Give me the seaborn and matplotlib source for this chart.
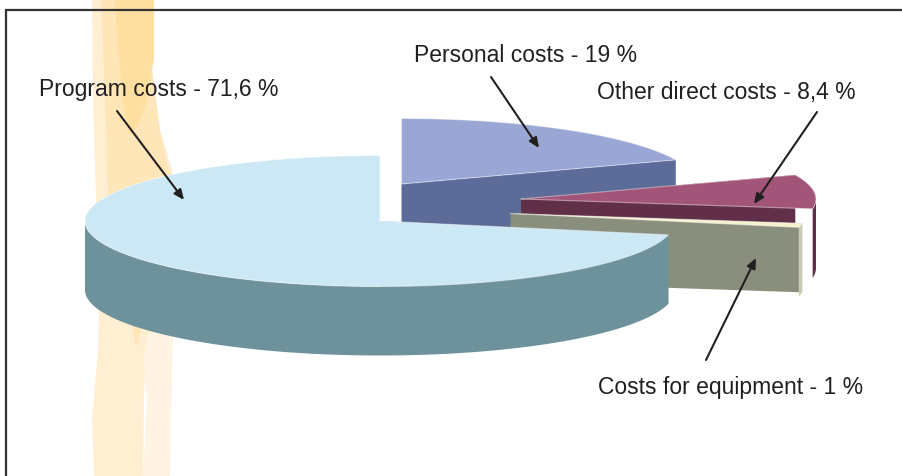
import numpy as np
import pandas as pd
import matplotlib
matplotlib.use("Agg")
import matplotlib.pyplot as plt
import seaborn as sns

# === DATA ===
labels = ["Program costs", "Costs for equipment", "Other direct costs", "Personal costs"]
shares = [71.6, 1.0, 8.4, 19.0]
share_text = ["71,6", "1", "8,4", "19"]

# === STYLE ===
top_colors = ["#cbe8f4", "#f6f1cd", "#a25578", "#9aa6d4"]
side_colors = ["#6e929b", "#8a8f7d", "#622f49", "#5c6b97"]
arc_colors = ["#6e929b", "#c9ccb6", "#622f49", "#5c6b97"]
centers = [(380, 221), (510.5, 213.5), (521, 199), (401.5, 184)]
draw_order = [3, 2, 1, 0]  # back to front

rx, ry, depth = 295, 65.5, 69
text_pos = [(39, 96), (598, 394), (597, 99), (414, 62)]
arrows = [((117, 111), (184, 200)), ((706, 360), (756, 258)),
          ((817, 112), (754, 204)), ((491, 77), (539, 148))]

sns.set_theme(style="white")
plt.rcParams["font.family"] = ["Liberation Sans", "DejaVu Sans"]

fig = plt.figure(figsize=(9.02, 4.76), dpi=100)
ax = fig.add_axes([0, 0, 1, 1])
ax.set_xlim(0, 902)
ax.set_ylim(476, 0)
ax.axis("off")


def arc(cx, cy, a1, a2, n=120):
    t = np.radians(np.linspace(a1, a2, n))
    return cx + rx * np.cos(t), cy - ry * np.sin(t)


# flame ribbon behind the pie
ax.fill([92, 93, 96, 99, 98, 92, 94, 143, 144, 147, 175, 172, 160, 152, 154, 154],
        [0, 100, 200, 312, 350, 420, 476, 476, 400, 340, 300, 170, 130, 70, 60, 0],
        color="#ffefd2", lw=0, zorder=1)
ax.fill([143, 147, 144, 148, 172, 173, 171, 170],
        [476, 400, 360, 335, 300, 340, 420, 476],
        color="#fff4e3", lw=0, zorder=1.1)
ax.fill([101, 105, 108, 150, 172, 167, 160, 152, 154, 154],
        [0, 100, 200, 200, 175, 165, 130, 70, 60, 0],
        color="#fee6b8", lw=0, zorder=1.2)
ax.fill([115, 118, 123, 129, 137, 145, 150, 152, 154, 154],
        [0, 50, 100, 135, 128, 108, 85, 68, 55, 0],
        color="#fedfa0", lw=0, zorder=1.3)
ax.fill([128, 136, 141, 143, 130], [300, 349, 330, 300, 300],
        color="#fee6b8", lw=0, zorder=1.3)

# frame
ax.plot([6, 6, 902], [476, 9.5, 9.5], color="#333333", lw=1.6, zorder=2,
        solid_joinstyle="miter")

# slices, angles run clockwise from 12 o'clock
ends = 90 + np.cumsum([0] + [s * 3.6 for s in shares])
for z, i in enumerate(draw_order):
    cx, cy = centers[i]
    a1, a2 = ends[i], ends[i + 1]
    zo = 3 + z
    # the radial wall facing the viewer
    wall = a2 if i != 3 else a1
    wx, wy = arc(cx, cy, wall, wall, 1)
    ax.fill([cx, wx[0], wx[0], cx], [cy, wy[0], wy[0] + depth, cy + depth],
            color=side_colors[i], lw=0, zorder=zo)
    # the rim, only the part below the horizontal axis shows
    t = np.linspace(a1, a2, 200) % 360
    t = np.linspace(a1, a2, 200)[(t > 180) & (t < 360)]
    if len(t) > 1:
        x, y = cx + rx * np.cos(np.radians(t)), cy - ry * np.sin(np.radians(t))
        ax.fill(np.r_[x, x[::-1]], np.r_[y, y[::-1] + depth],
                color=arc_colors[i], lw=0, zorder=zo)
    # top face
    x, y = arc(cx, cy, a1, a2)
    ax.fill(np.r_[cx, x], np.r_[cy, y], color=top_colors[i], lw=0, zorder=zo + 0.1)
    rim = pd.DataFrame({"x": np.r_[cx, x, cx], "y": np.r_[cy, y, cy]})
    line = sns.lineplot(data=rim, x="x", y="y", sort=False, estimator=None,
                        color="#ffffff", alpha=0.45, lw=0.8, ax=ax, zorder=zo + 0.2)

ax.set_xlim(0, 902)
ax.set_ylim(476, 0)
ax.axis("off")

# labels and pointers
for name, val, (tx, ty), (start, tip) in zip(labels, share_text, text_pos, arrows):
    ax.text(tx, ty, f"{name} - {val} %", fontsize=16.5, color="#231f20",
            ha="left", va="baseline", zorder=20)
    ax.annotate("", xy=tip, xytext=start, zorder=20,
                arrowprops=dict(arrowstyle="-|>,head_length=0.5,head_width=0.22",
                                color="#231f20", lw=1.5, shrinkA=0, shrinkB=0))

fig.savefig("out.png", dpi=100, facecolor="white")
